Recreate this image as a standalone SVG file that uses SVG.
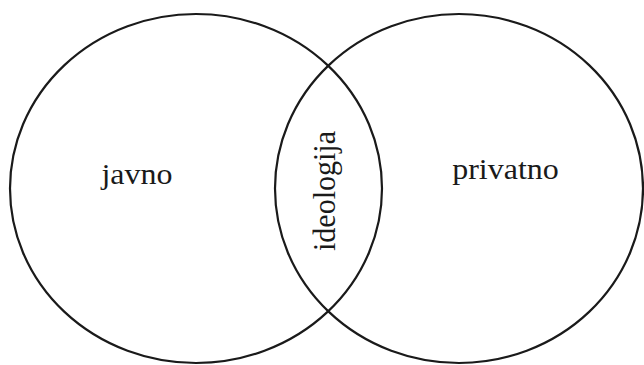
<svg xmlns="http://www.w3.org/2000/svg" width="644" height="365" viewBox="0 0 644 365">
  <style>
    .ring { fill: none; stroke: #1a1a1a; stroke-width: 2.2; }
    .lbl { font-family: "Liberation Serif", "Times New Roman", serif; font-size: 30px; fill: #1a1a1a; }
  </style>
  <rect width="644" height="365" fill="#ffffff"/>
  <g id="javno">
    <ellipse class="ring" cx="196" cy="188.5" rx="186" ry="174.5"/>
    <text class="lbl" transform="translate(137,184) scale(1.066,1)" x="0" y="0" text-anchor="middle" font-size="31">javno</text>
  </g>
  <g id="privatno">
    <ellipse class="ring" cx="459" cy="188.5" rx="184" ry="174.5"/>
    <text class="lbl" transform="translate(505.5,179) scale(1.066,1)" x="0" y="0" text-anchor="middle" font-size="31">privatno</text>
  </g>
  <g id="ideologija">
    <text class="lbl" transform="translate(335,191) scale(1.066,1) rotate(-90)" x="0" y="0" text-anchor="middle" font-size="29">ideologija</text>
  </g>
  <g id="connectors"></g>
</svg>
